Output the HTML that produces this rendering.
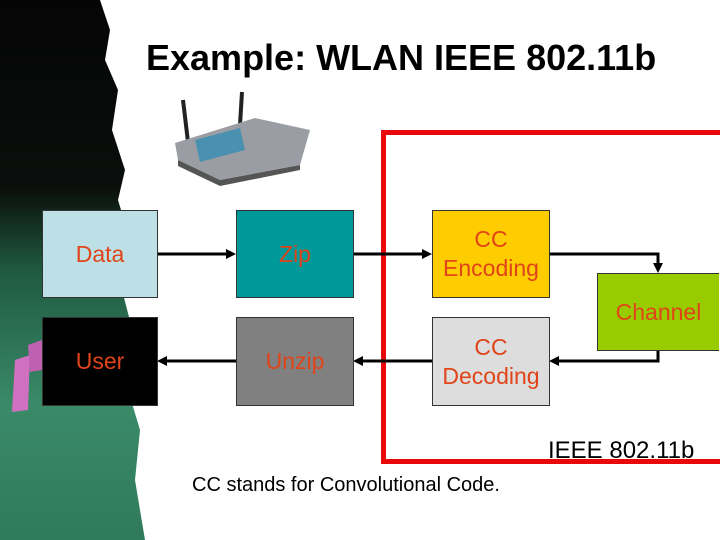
<!DOCTYPE html>
<html><head><style>
body{margin:0;width:720px;height:540px;overflow:hidden;background:#fff;position:relative;font-family:"Liberation Sans",sans-serif}
.b{position:absolute;border:1px solid #333;box-sizing:border-box;display:flex;align-items:center;justify-content:center;text-align:center;color:#e04418;font-size:23px;line-height:29px}
.t{position:absolute;white-space:nowrap}
</style></head><body>
<svg width="720" height="540" style="position:absolute;left:0;top:0">
<defs>
<linearGradient id="g" x1="0" y1="0" x2="0" y2="1">
<stop offset="0" stop-color="#050505"/><stop offset="0.35" stop-color="#0a0f0c"/><stop offset="0.5" stop-color="#1f5a40"/><stop offset="0.75" stop-color="#3a8a68"/><stop offset="1" stop-color="#2f7a5a"/></linearGradient>
</defs>
<path d="M0 0 L100 0 L110 30 L105 60 L118 90 L112 130 L125 170 L118 200 L130 240 L122 290 L135 340 L128 390 L140 430 L135 480 L145 540 L0 540Z" fill="url(#g)"/>
<path d="M15 360 L30 355 L28 410 L12 412Z" fill="#d070c0"/>
<path d="M28 345 L42 340 L42 370 L30 372Z" fill="#c060b0"/>
<line x1="183" y1="100" x2="188" y2="142" stroke="#222" stroke-width="4"/>
<line x1="242" y1="92" x2="240" y2="125" stroke="#222" stroke-width="4"/>
<path d="M175 143 L255 118 L310 130 L300 165 L220 180 L178 160Z" fill="#9a9ea4"/>
<path d="M195 140 L240 128 L245 150 L200 162Z" fill="#4a90b0"/>
<path d="M178 160 L220 180 L300 165 L300 170 L220 186 L178 166Z" fill="#555"/>
<rect x="383.5" y="132.5" width="340" height="329" fill="none" stroke="#e8080a" stroke-width="5"/>
<g stroke="#000" stroke-width="3" fill="none">
<path d="M157 254 H228"/><path d="M353 254 H424"/>
<path d="M549 254 H658 V265"/>
<path d="M658 350 V361 H557"/>
<path d="M432 361 H361"/><path d="M236 361 H165"/>
</g>
<g fill="#000">
<path d="M236 254 L226 249 L226 259Z"/><path d="M432 254 L422 249 L422 259Z"/>
<path d="M658 273 L653 263 L663 263Z"/><path d="M549 361 L559 356 L559 366Z"/>
<path d="M353 361 L363 356 L363 366Z"/><path d="M157 361 L167 356 L167 366Z"/>
</g>
</svg>
<div class="t" style="left:146px;top:37px;font-size:36px;font-weight:bold">Example: WLAN IEEE 802.11b</div>
<div class="b" style="left:42px;top:210px;width:116px;height:88px;background:#bde0e6">Data</div>
<div class="b" style="left:236px;top:210px;width:118px;height:88px;background:#009999">Zip</div>
<div class="b" style="left:432px;top:210px;width:118px;height:88px;background:#ffcc00">CC<br>Encoding</div>
<div class="b" style="left:597px;top:273px;width:122px;height:78px;background:#99cc00;border-right:none">Channel</div>
<div class="b" style="left:42px;top:317px;width:116px;height:89px;background:#000">User</div>
<div class="b" style="left:236px;top:317px;width:118px;height:89px;background:#808080">Unzip</div>
<div class="b" style="left:432px;top:317px;width:118px;height:89px;background:#dddddd">CC<br>Decoding</div>
<div class="t" style="left:548px;top:437px;font-size:24px">IEEE 802.11b</div>
<div class="t" style="left:192px;top:474px;font-size:20px">CC stands for Convolutional Code.</div>
</body></html>
